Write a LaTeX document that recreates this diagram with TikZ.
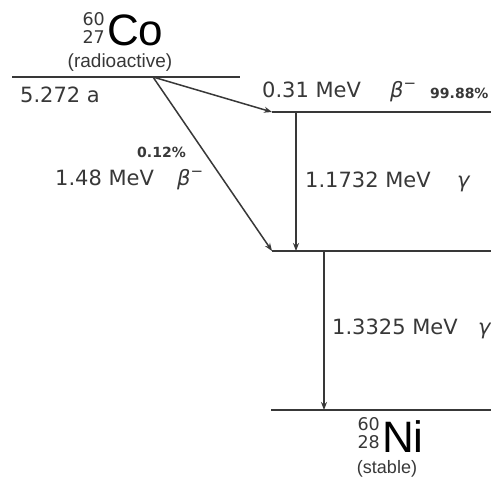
\documentclass[tikz,border=0pt]{standalone}
\usepackage{fontspec}
\setmainfont{DejaVu Sans}
\newfontfamily\lib{Liberation Sans}
\usetikzlibrary{arrows.meta}
\definecolor{ink}{HTML}{383838}
\newcommand\bminus{\textit{β}\raisebox{0.42em}{\fontsize{15}{15}\selectfont −}}
\newcommand\nuc[2]{\begin{tabular}[b]{@{}r@{}}#1\\#2\end{tabular}}
\begin{document}
\begin{tikzpicture}[x=1pt,y=-1pt,
  level/.style={line width=2pt, draw=ink},
  trans/.style={line width=1.5pt, draw=ink, -{Stealth[length=8pt,width=6pt]}},
  lbl/.style={inner sep=0, anchor=base west, text=ink, font=\fontsize{21}{21}\selectfont},
  pct/.style={inner sep=0, anchor=base west, text=ink, font=\bfseries\fontsize{14}{14}\selectfont},
  big/.style={inner sep=0, anchor=base west, text=black, font=\lib\fontsize{44}{44}\selectfont},
  iso/.style={inner sep=0, anchor=base east, text=ink, font=\fontsize{17.5}{15.5}\selectfont},
  note/.style={inner sep=0, anchor=base, text=ink, font=\lib\fontsize{19}{19}\selectfont}]
\useasboundingbox (0,0) rectangle (491,480);
\fill[white] (0,0) rectangle (491,480);
% levels
\coordinate (coL) at (12,77);
\coordinate (coR) at (240,77);
\coordinate (src) at (153,77);
\coordinate (l2L) at (272,112);
\coordinate (l2R) at (491,112);
\coordinate (l3L) at (272,251);
\coordinate (l3R) at (491,251);
\coordinate (niL) at (271,410);
\coordinate (niR) at (491,410);
\coordinate (g1top) at (296,112);
\coordinate (g1bot) at (296,251);
\coordinate (g2top) at (324,251);
\coordinate (g2bot) at (324,410);
\draw[level] (coL) -- (coR);
\draw[level] (l2L) -- (l2R);
\draw[level] (l3L) -- (l3R);
\draw[level] (niL) -- (niR);
% transitions
\draw[trans] (src) -- (l2L);
\draw[trans] (src) -- (l3L);
\draw[trans] (g1top) -- (g1bot);
\draw[trans] (g2top) -- (g2bot);
% labels
\node[big] (co) at (107,45) {Co};
\node[iso] (coAZ) at (105,43) {\nuc{60}{27}};
\node[note] (radio) at (120,67) {(radioactive)};
\node[lbl] (half) at (20,102) {5.272 a};
\node[lbl] (e031) at (262,97) {0.31 MeV};
\node[lbl] (b1) at (390,97) {\bminus};
\node[pct] (p1) at (430,98) {99.88\%};
\node[pct] (p2) at (137,157) {0.12\%};
\node[lbl] (e148) at (55,185) {1.48 MeV};
\node[lbl] (b2) at (177,185) {\bminus};
\node[lbl] (e1173) at (305,187) {1.1732 MeV};
\node[lbl] (g1) at (457,187) {\textit{γ}};
\node[lbl] (e1332) at (332,334) {1.3325 MeV};
\node[lbl] (g2) at (478,334) {\textit{γ}};
\node[big] (ni) at (382,452) {Ni};
\node[iso] (niAZ) at (380,448) {\nuc{60}{28}};
\node[note,font=\lib\fontsize{18}{18}\selectfont] (stab) at (387,473) {(stable)};
\end{tikzpicture}
\end{document}
